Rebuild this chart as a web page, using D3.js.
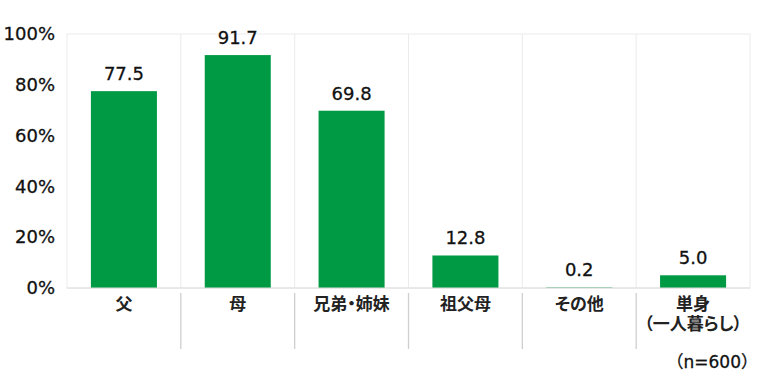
<!DOCTYPE html>
<html>
<head>
<meta charset="utf-8">
<script src="https://cdn.jsdelivr.net/npm/d3@7"></script>
<style>
  body { margin: 0; background: #fff; }
  text { font-family: "DejaVu Sans", "Noto Sans CJK JP", sans-serif; }
  .cat { font-family: "Noto Sans CJK JP", sans-serif; font-feature-settings: "palt"; }
</style>
</head>
<body>
<svg id="chart"></svg>
<script>
// data
var categories = ["父", "母", "兄弟・姉妹", "祖父母", "その他", "単身\n（一人暮らし）"]
var values = [77.5, 91.7, 69.8, 12.8, 0.2, 5.0]
var yTicks = [0, 20, 40, 60, 80, 100]
var note = "（n=600）"

var W = 760, H = 376
var margin = {top: 34, right: 10, bottom: 88, left: 67}
var w = W - margin.left - margin.right,
    h = H - margin.top - margin.bottom

var svg = d3.select("#chart")
  .attr("width", W)
  .attr("height", H)

var g = svg.append("g")
  .attr("transform", `translate(${margin.left},${margin.top})`)

var x = d3.scaleBand()
  .domain(categories)
  .range([0, w])
  .paddingInner(0.42)
  .paddingOuter(0.21)

var y = d3.scaleLinear()
  .domain([0, 100])
  .range([h, 0])

// frame and vertical grid
g.append("rect")
  .attr("x", 0).attr("y", 0)
  .attr("width", w).attr("height", h)
  .attr("fill", "none")
  .attr("stroke", "#ebebeb")
  .attr("stroke-width", 1)

var step = w / categories.length
g.selectAll(".vgrid")
  .data(categories.slice(1))
  .join("line")
  .attr("class", "vgrid")
  .attr("x1", (d, i) => step * (i + 1))
  .attr("x2", (d, i) => step * (i + 1))
  .attr("y1", 0)
  .attr("y2", h)
  .attr("stroke", "#ebebeb")

// separators below the axis
g.selectAll(".sep")
  .data(categories.slice(1))
  .join("line")
  .attr("class", "sep")
  .attr("x1", (d, i) => step * (i + 1))
  .attr("x2", (d, i) => step * (i + 1))
  .attr("y1", h + 5)
  .attr("y2", h + 61)
  .attr("stroke", "#cfcfcf")
  .attr("stroke-width", 1.3)

// bars
g.selectAll(".bar")
  .data(values)
  .join("rect")
  .attr("class", "bar")
  .attr("x", (d, i) => x(categories[i]))
  .attr("y", d => y(d))
  .attr("width", x.bandwidth())
  .attr("height", d => h - y(d))
  .attr("fill", "#009944")

// bottom axis line
g.append("line")
  .attr("x1", 0).attr("x2", w)
  .attr("y1", h).attr("y2", h)
  .attr("stroke", "#dcdcdc")

// value labels
g.selectAll(".val")
  .data(values)
  .join("text")
  .attr("class", "val")
  .attr("x", (d, i) => x(categories[i]) + x.bandwidth() / 2)
  .attr("y", d => y(d) - 11)
  .attr("text-anchor", "middle")
  .attr("font-size", 18)
  .attr("fill", "#111")
  .attr("stroke", "#111")
  .attr("stroke-width", 0.3)
  .text(d => d.toFixed(1))

// y axis
var yAxis = g.append("g")
  .call(d3.axisLeft(y).tickValues(yTicks).tickFormat(d => d + "%").tickSize(0).tickPadding(12))
yAxis.select(".domain").remove()
yAxis.selectAll("text")
  .attr("font-size", 18)
  .attr("fill", "#111")
  .attr("stroke", "#111")
  .attr("stroke-width", 0.3)
  .style("font-family", '"DejaVu Sans", sans-serif')

// category labels
var cat = g.selectAll(".cat")
  .data(categories)
  .join("text")
  .attr("class", "cat")
  .attr("x", d => x(d) + x.bandwidth() / 2)
  .attr("y", h + 22)
  .attr("text-anchor", "middle")
  .attr("font-size", 17)
  .attr("font-weight", 700)
  .attr("fill", "#222")

cat.selectAll("tspan")
  .data(d => d.split("\n"))
  .join("tspan")
  .attr("x", function() { return this.parentNode.getAttribute("x") })
  .attr("dy", (d, i) => i === 0 ? 0 : 20)
  .text(d => d)

// note
svg.append("text")
  .attr("x", 758)
  .attr("y", 368)
  .attr("text-anchor", "end")
  .attr("font-size", 17)
  .attr("fill", "#111")
  .attr("stroke", "#111")
  .attr("stroke-width", 0.3)
  .text(note)
</script>
</body>
</html>
